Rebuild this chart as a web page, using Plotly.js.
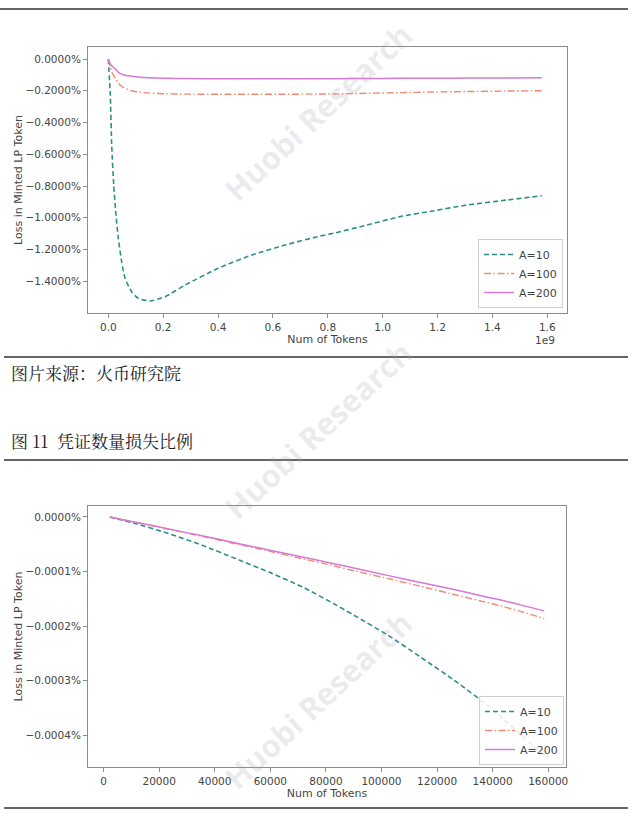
<!DOCTYPE html>
<html>
<head>
<meta charset="utf-8">
<script src="https://cdn.plot.ly/plotly-3.0.1.min.js"></script>
<style>html,body{margin:0;padding:0;background:#fff;}#chart{width:634px;height:818px;}</style>
</head>
<body>
<div id="chart"></div>
<script>
// ---------- Chart 1 (top): Num of Tokens in units of 1e9 ----------
const tokensTop = [0, 0.0073, 0.0124, 0.0197, 0.027, 0.0365, 0.0486, 0.061, 0.085, 0.109, 0.152, 0.207, 0.28, 0.401, 0.523, 0.644, 0.764, 0.826, 0.94, 1.063, 1.183, 1.307, 1.45, 1.58];
const lossTopA10  = [0, -0.227, -0.542, -0.794, -0.962, -1.129, -1.277, -1.381, -1.466, -1.507, -1.524, -1.497, -1.424, -1.318, -1.235, -1.172, -1.119, -1.096, -1.047, -0.993, -0.957, -0.920, -0.889, -0.861];
const lossTopA100 = [0, -0.050, -0.080, -0.105, -0.125, -0.153, -0.172, -0.185, -0.200, -0.208, -0.215, -0.219, -0.221, -0.222, -0.222, -0.222, -0.221, -0.220, -0.216, -0.212, -0.208, -0.205, -0.202, -0.200];
const lossTopA200 = [0, -0.030, -0.042, -0.055, -0.065, -0.084, -0.095, -0.102, -0.108, -0.113, -0.118, -0.121, -0.123, -0.124, -0.124, -0.124, -0.124, -0.124, -0.123, -0.122, -0.121, -0.120, -0.119, -0.118];
const topXTicks = [0, 0.2, 0.4, 0.6, 0.8, 1.0, 1.2, 1.4, 1.6];
const topXTickLabels = ['0.0', '0.2', '0.4', '0.6', '0.8', '1.0', '1.2', '1.4', '1.6'];
const topYTicks = [0, -0.2, -0.4, -0.6, -0.8, -1.0, -1.2, -1.4];
const topYTickLabels = ['0.0000%', '−0.2000%', '−0.4000%', '−0.6000%', '−0.8000%', '−1.0000%', '−1.2000%', '−1.4000%'];

// ---------- Chart 2 (bottom) ----------
const tokensBottom = [2200, 11420, 23420, 35460, 47460, 59460, 71500, 82880, 90090, 102130, 114130, 126130, 138160, 142960, 150000, 158580];
const lossBotA10  = [0, -0.0000121, -0.0000304, -0.0000518, -0.0000762, -0.000101, -0.000128, -0.000159, -0.000180, -0.000216, -0.000257, -0.000299, -0.000345, -0.000366, -0.000398, -0.000437];
const lossBotA100 = [0, -0.0000097, -0.0000225, -0.0000355, -0.0000490, -0.0000625, -0.0000765, -0.0000895, -0.0000985, -0.0001125, -0.000127, -0.000142, -0.000157, -0.000163, -0.000173, -0.000186];
const lossBotA200 = [0, -0.0000095, -0.0000220, -0.0000345, -0.0000475, -0.0000605, -0.0000735, -0.0000855, -0.0000935, -0.000107, -0.000120, -0.000133, -0.000147, -0.000152, -0.000161, -0.000172];
const botXTicks = [0, 20000, 40000, 60000, 80000, 100000, 120000, 140000, 160000];
const botXTickLabels = ['0', '20000', '40000', '60000', '80000', '100000', '120000', '140000', '160000'];
const botYTicks = [0, -0.0001, -0.0002, -0.0003, -0.0004];
const botYTickLabels = ['0.0000%', '−0.0001%', '−0.0002%', '−0.0003%', '−0.0004%'];

const seriesNames = ['A=10', 'A=100', 'A=200'];

// texts
const sourceText = '图片来源：火币研究院';
const figureTitle = '图 11  凭证数量损失比例';
const yTitle = 'Loss in Minted LP Token';
const xTitle = 'Num of Tokens';
const offsetText = '1e9';
const watermark = 'Huobi Research';

// ---------- styling ----------
const W = 634, H = 818;
const colA10 = '#2e8f88', colA100 = '#ef8a70', colA200 = '#d878d4';
const styles = [
  {color: colA10, width: 1.6, dash: '5px,3px'},
  {color: colA100, width: 1.4, dash: '7px,2.5px,1.5px,2.5px'},
  {color: colA200, width: 1.5, dash: 'solid'}
];
const px = (p) => p / W;
const py = (p) => 1 - p / H;

const tickFont = {family: 'DejaVu Sans, sans-serif', size: 10.5, color: '#454545'};
const titleFont = {family: 'DejaVu Sans, sans-serif', size: 11, color: '#454545'};
const axisCommon = {
  showgrid: false, zeroline: false, showline: true, mirror: true,
  linecolor: '#8c8c8c', linewidth: 1, ticks: 'outside', ticklen: 4,
  tickcolor: '#8c8c8c', tickwidth: 1, tickfont: tickFont, automargin: false, tickmode: 'array'
};

const topY = [lossTopA10, lossTopA100, lossTopA200];
const botY = [lossBotA10, lossBotA100, lossBotA200];
const traces = [];
seriesNames.forEach((n, i) => {
  traces.push({x: tokensTop, y: topY[i], name: n, type: 'scatter', mode: 'lines',
    line: Object.assign({shape: 'spline', smoothing: 0.6}, styles[i]), xaxis: 'x', yaxis: 'y', legend: 'legend'});
});
seriesNames.forEach((n, i) => {
  traces.push({x: tokensBottom, y: botY[i], name: n, type: 'scatter', mode: 'lines',
    line: Object.assign({shape: 'spline', smoothing: 0.6}, styles[i]), xaxis: 'x2', yaxis: 'y2', legend: 'legend2'});
});

const legendCommon = {
  bgcolor: 'rgba(255,255,255,0.85)', bordercolor: '#d0d0d0', borderwidth: 1,
  font: {family: 'DejaVu Sans, sans-serif', size: 11, color: '#454545'},
  xanchor: 'right', yanchor: 'bottom', tracegroupgap: 0, itemwidth: 30
};

// watermarks (faint, rotated), centred at these page positions
const wmPos = [[318, 112], [318, 430], [318, 700]];
const annotations = wmPos.map(p => ({
  text: '<b>' + watermark + '</b>', x: px(p[0]), y: py(p[1]), xref: 'paper', yref: 'paper',
  xanchor: 'center', yanchor: 'middle',
  showarrow: false, textangle: -43, font: {family: 'Open Sans, sans-serif', size: 31, color: 'rgba(165,165,180,0.22)'}
}));
annotations.push(
  {text: offsetText, x: px(557), y: py(340), xref: 'paper', yref: 'paper', xanchor: 'right', yanchor: 'middle', showarrow: false, font: tickFont},
  {text: sourceText, x: px(9), y: py(372), xref: 'paper', yref: 'paper', xanchor: 'left', yanchor: 'middle', showarrow: false,
    font: {family: 'Noto Serif CJK SC, Noto Sans CJK SC, sans-serif', size: 17, color: '#222'}},
  {text: figureTitle, x: px(9), y: py(441), xref: 'paper', yref: 'paper', xanchor: 'left', yanchor: 'middle', showarrow: false,
    font: {family: 'Noto Serif CJK SC, Noto Sans CJK SC, sans-serif', size: 17, color: '#222'}}
);

const hline = (y, x0, x1) => ({type: 'line', xref: 'paper', yref: 'paper', x0: px(x0), x1: px(x1), y0: py(y), y1: py(y), line: {color: '#333', width: 1.3}});

const layout = {
  width: W, height: H, margin: {l: 0, r: 0, t: 0, b: 0},
  paper_bgcolor: '#fff', plot_bgcolor: '#fff', showlegend: true,
  font: {family: 'DejaVu Sans, sans-serif', color: '#454545'},
  xaxis: Object.assign({}, axisCommon, {domain: [px(88), px(567)], range: [-0.074, 1.672], tickvals: topXTicks, ticktext: topXTickLabels, anchor: 'y',
    title: {text: xTitle, font: titleFont, standoff: 1}}),
  yaxis: Object.assign({}, axisCommon, {domain: [py(313), py(47)], range: [-1.600, 0.0756], tickvals: topYTicks, ticktext: topYTickLabels, anchor: 'x',
    title: {text: yTitle, font: titleFont, standoff: 0}}),
  xaxis2: Object.assign({}, axisCommon, {domain: [px(88), px(566)], range: [-5620, 166400], tickvals: botXTicks, ticktext: botXTickLabels, anchor: 'y2',
    title: {text: xTitle, font: titleFont, standoff: 1}}),
  yaxis2: Object.assign({}, axisCommon, {domain: [py(767), py(506)], range: [-0.000458, 0.0000201], tickvals: botYTicks, ticktext: botYTickLabels, anchor: 'x2',
    title: {text: yTitle, font: titleFont, standoff: 0}}),
  legend: Object.assign({}, legendCommon, {x: px(563), y: py(308)}),
  legend2: Object.assign({}, legendCommon, {x: px(564), y: py(765)}),
  annotations: annotations,
  shapes: [hline(9, 0, 628), hline(357, 4, 628), hline(460, 4, 628), hline(808, 4, 628)]
};

Plotly.newPlot('chart', traces, layout, {staticPlot: true, displayModeBar: false});
</script>
</body>
</html>
